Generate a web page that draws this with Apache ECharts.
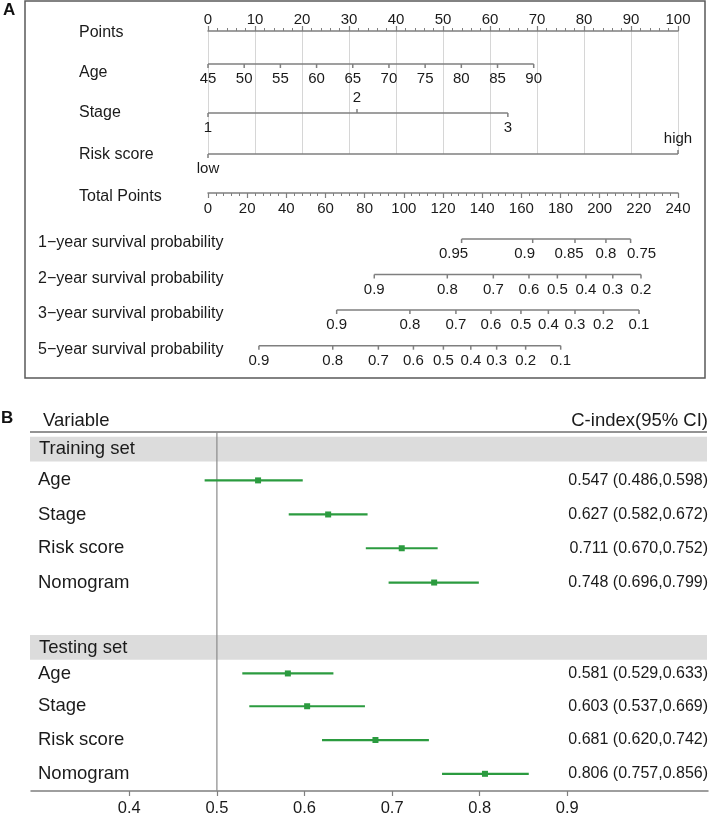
<!DOCTYPE html>
<html><head><meta charset="utf-8">
<script src="https://cdn.jsdelivr.net/npm/echarts@6/dist/echarts.min.js"></script>
<style>html,body{margin:0;padding:0;background:#fff}#c{width:709px;height:817px}</style>
</head><body><div id="c"></div>
<script>
// ---------- Panel A: nomogram ----------
const ageLabels   = ['45','50','55','60','65','70','75','80','85','90'];
const agePoints   = [0, 7.7, 15.4, 23.1, 30.8, 38.5, 46.2, 53.9, 61.6, 69.3];
const stageLabels = ['1','2','3'];
const stagePoints = [0, 31.7, 63.8];
const riskLabels  = ['low','high'];
const riskPoints  = [0, 100];
const surv1Labels = ['0.95','0.9','0.85','0.8','0.75'];
const surv1Total  = [129.5, 165.8, 187.4, 203.2, 215.8];
const surv2Labels = ['0.9','0.8','0.7','0.6','0.5','0.4','0.3','0.2'];
const surv2Total  = [84.9, 122.2, 145.7, 163.9, 178.4, 193.0, 206.7, 221.1];
const surv3Labels = ['0.9','0.8','0.7','0.6','0.5','0.4','0.3','0.2','0.1'];
const surv3Total  = [65.7, 103.1, 126.6, 144.5, 159.8, 173.8, 187.4, 201.9, 220.1];
const surv5Labels = ['0.9','0.8','0.7','0.6','0.5','0.4','0.3','0.2','0.1'];
const surv5Total  = [26.0, 63.7, 87.0, 104.9, 120.2, 134.2, 147.4, 162.2, 180.1];
const nomoRowTitles = ['Points','Age','Stage','Risk score','Total Points'];
const survRowTitles = ['1\u2212year survival probability','2\u2212year survival probability',
                       '3\u2212year survival probability','5\u2212year survival probability'];

// ---------- Panel B: forest plot ----------
const variables = ['Age','Stage','Risk score','Nomogram'];
const setNames  = ['Training set','Testing set'];
const trainC  = [0.547, 0.627, 0.711, 0.748];
const trainLo = [0.486, 0.582, 0.670, 0.696];
const trainHi = [0.598, 0.672, 0.752, 0.799];
const testC   = [0.581, 0.603, 0.681, 0.806];
const testLo  = [0.529, 0.537, 0.620, 0.757];
const testHi  = [0.633, 0.669, 0.742, 0.856];
const cTicks  = [0.4, 0.5, 0.6, 0.7, 0.8, 0.9];

// ---------- styles / layout ----------
const FONT = '"Liberation Sans", Arial, sans-serif';
const AXIS = '#7f7f7f', TEXT = '#1a1a1a', GRIDC = '#d6d6d6', GREEN = '#2b9b3f', BAND = '#dcdcdc';
const TICK = 4, LOFF = 15;

function scaleSeries(gi, rowY, pos, labels, sides, nudges) {
  return {
    type: 'custom', xAxisIndex: gi, yAxisIndex: gi, silent: true, clip: false, z: 5,
    data: pos.map((p, i) => [p, rowY, i]),
    renderItem(params, api) {
      const i = api.value(2);
      const pt = api.coord([api.value(0), api.value(1)]);
      const dir = sides[i] === 'above' ? -1 : 1;
      const ch = [];
      if (i === 0) {
        const a = api.coord([pos[0], rowY]), b = api.coord([pos[pos.length - 1], rowY]);
        ch.push({type: 'line', shape: {x1: a[0], y1: a[1], x2: b[0], y2: b[1]},
                 style: {stroke: AXIS, lineWidth: 1.5}});
      }
      ch.push({type: 'line', shape: {x1: pt[0], y1: pt[1], x2: pt[0], y2: pt[1] + dir * TICK},
               style: {stroke: AXIS, lineWidth: 1.5}});
      ch.push({type: 'text', x: pt[0] + (nudges ? nudges[i] : 0), y: pt[1] + dir * LOFF,
               style: {text: labels[i], fill: TEXT, font: '15px ' + FONT, align: 'center', verticalAlign: 'middle'}});
      return {type: 'group', children: ch};
    }
  };
}
const below = n => Array(n).fill('below');

// forest rows (relative y inside panel B grid)
const bandRows = [17.3, 216.8];
const bandH = 24.7;
const trainRows = [48.7, 83, 117, 151.5];
const testRows  = [243, 276, 310, 344];

const forestData = [];
variables.forEach((v, i) => forestData.push([trainC[i], trainLo[i], trainHi[i], trainRows[i], 0, i]));
variables.forEach((v, i) => forestData.push([testC[i], testLo[i], testHi[i], testRows[i], 1, i]));

const option = {
  animation: false,
  backgroundColor: '#fff',
  grid: [
    {left: 208, right: 31, top: 31, height: 123},
    {left: 208, right: 31, top: 193, height: 185},
    {left: 31, right: 1, top: 432, height: 361.3}
  ],
  xAxis: [
    {gridIndex: 0, type: 'value', position: 'top', min: 0, max: 100, interval: 10,
     axisLine: {onZero: false, lineStyle: {color: AXIS, width: 1.5}},
     axisTick: {length: 5, lineStyle: {color: AXIS, width: 1.2}},
     minorTick: {show: true, splitNumber: 5, length: 3, lineStyle: {color: AXIS, width: 1}},
     axisLabel: {margin: 4, fontSize: 15, fontFamily: FONT, color: TEXT},
     splitLine: {show: true, lineStyle: {color: GRIDC, width: 1}}},
    {gridIndex: 1, type: 'value', position: 'top', min: 0, max: 240, interval: 20,
     axisLine: {onZero: false, lineStyle: {color: AXIS, width: 1.5}},
     axisTick: {inside: true, length: 5, lineStyle: {color: AXIS, width: 1.2}},
     minorTick: {show: true, splitNumber: 5, length: 3, lineStyle: {color: AXIS, width: 1}},
     axisLabel: {inside: true, margin: 8, fontSize: 15, fontFamily: FONT, color: TEXT},
     splitLine: {show: false}},
    {gridIndex: 2, type: 'value', position: 'bottom', min: 0.2878, max: 1.0606,
     axisLine: {onZero: false, lineStyle: {color: AXIS, width: 1.5}},
     axisTick: {customValues: cTicks, length: 5, lineStyle: {color: AXIS, width: 1.2}},
     axisLabel: {customValues: cTicks, margin: 9, fontSize: 16.5, fontFamily: FONT, color: TEXT,
                 formatter: v => (+v).toFixed(1)},
     splitLine: {show: false}}
  ],
  yAxis: [
    {gridIndex: 0, type: 'value', min: 0, max: 123, inverse: true, show: false},
    {gridIndex: 1, type: 'value', min: 0, max: 185, inverse: true, show: false},
    {gridIndex: 2, type: 'value', min: 0, max: 361.3, inverse: true, show: false}
  ],
  graphic: [
    {type: 'rect', z: 0, shape: {x: 25, y: 1, width: 680, height: 377},
     style: {fill: 'none', stroke: '#5a5a5a', lineWidth: 1.5}},
    {type: 'text', x: 3, y: 2, style: {text: 'A', font: 'bold 17px ' + FONT, fill: '#111'}},
    {type: 'text', x: 1, y: 410, style: {text: 'B', font: 'bold 17px ' + FONT, fill: '#111'}},
    ...nomoRowTitles.map((t, i) => ({type: 'text', x: 79, y: [33, 73, 113, 155, 197][i],
      style: {text: t, font: '16px ' + FONT, fill: TEXT, verticalAlign: 'middle'}})),
    ...survRowTitles.map((t, i) => ({type: 'text', x: 38, y: [243, 279, 314, 350][i],
      style: {text: t, font: '16px ' + FONT, fill: TEXT, verticalAlign: 'middle'}})),
    {type: 'text', x: 43, y: 421, style: {text: 'Variable', font: '18.5px ' + FONT, fill: TEXT, verticalAlign: 'middle'}},
    {type: 'text', x: 708, y: 421, style: {text: 'C-index(95% CI)', font: '18.5px ' + FONT, fill: TEXT,
      align: 'right', verticalAlign: 'middle'}}
  ],
  series: [
    scaleSeries(0, 33, agePoints, ageLabels, below(10)),
    scaleSeries(0, 82, stagePoints, stageLabels, ['below', 'above', 'below']),
    scaleSeries(0, 123, riskPoints, riskLabels, ['below', 'above']),
    scaleSeries(1, 46, surv1Total, surv1Labels, below(5), [-8, -8, -6, 0, 11]),
    scaleSeries(1, 81.5, surv2Total, surv2Labels, below(8)),
    scaleSeries(1, 117, surv3Total, surv3Labels, below(9)),
    scaleSeries(1, 152.7, surv5Total, surv5Labels, below(9)),
    // panel B frame: header line, set bands, reference line at 0.5
    {type: 'custom', xAxisIndex: 2, yAxisIndex: 2, silent: true, clip: false, z: 1,
     data: [[0.5]],
     renderItem(params, api) {
       const cs = params.coordSys;
       const ch = [];
       bandRows.forEach((r, k) => {
         const c = api.coord([0.5, r]);
         ch.push({type: 'rect', shape: {x: cs.x - 1, y: c[1] - bandH / 2, width: cs.width, height: bandH},
                  style: {fill: BAND}});
         ch.push({type: 'text', x: cs.x + 8, y: c[1],
                  style: {text: setNames[k], font: '18.5px ' + FONT, fill: TEXT, verticalAlign: 'middle'}});
       });
       const top = api.coord([0.5, 0]), bot = api.coord([0.5, 361.3]);
       ch.push({type: 'line', shape: {x1: cs.x - 1, y1: top[1], x2: cs.x + cs.width - 1, y2: top[1]},
                style: {stroke: '#6f6f6f', lineWidth: 1.6}});
       ch.push({type: 'line', shape: {x1: top[0], y1: top[1], x2: bot[0], y2: bot[1]},
                style: {stroke: '#8a8a8a', lineWidth: 1.2}});
       return {type: 'group', children: ch};
     }},
    // panel B forest rows
    {type: 'custom', xAxisIndex: 2, yAxisIndex: 2, silent: true, clip: false, z: 5,
     data: forestData,
     renderItem(params, api) {
       const cs = params.coordSys;
       const c = api.value(0), lo = api.value(1), hi = api.value(2), ry = api.value(3);
       const setIdx = api.value(4), vi = api.value(5);
       const pc = api.coord([c, ry]), pl = api.coord([lo, ry]), ph = api.coord([hi, ry]);
       const txt = c.toFixed(3) + ' (' + lo.toFixed(3) + ',' + hi.toFixed(3) + ')';
       return {type: 'group', children: [
         {type: 'line', shape: {x1: pl[0], y1: pl[1], x2: ph[0], y2: ph[1]},
          style: {stroke: GREEN, lineWidth: 2.2}},
         {type: 'rect', shape: {x: pc[0] - 3, y: pc[1] - 3, width: 6, height: 6}, style: {fill: GREEN}},
         {type: 'text', x: cs.x + 7, y: pc[1],
          style: {text: variables[vi], font: '18.5px ' + FONT, fill: TEXT, verticalAlign: 'middle'}},
         {type: 'text', x: cs.x + cs.width, y: pc[1],
          style: {text: txt, font: '16px ' + FONT, fill: TEXT, align: 'right', verticalAlign: 'middle'}}
       ]};
     }}
  ]
};
const chart = echarts.init(document.getElementById('c'), null, {renderer: 'canvas'});
chart.setOption(option);
</script>
</body></html>
